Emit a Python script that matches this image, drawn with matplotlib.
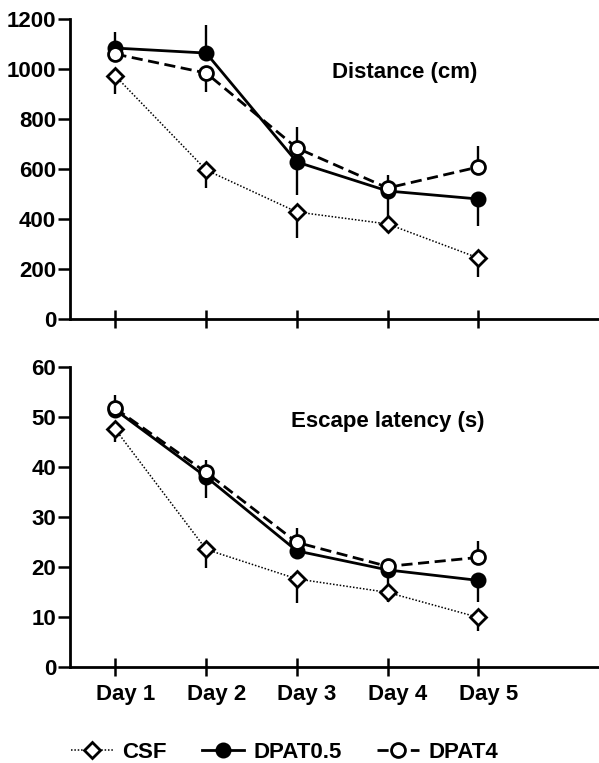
import matplotlib
matplotlib.use("agg")
import numpy as np
from matplotlib import pyplot as plt
from matplotlib import transforms
from matplotlib.lines import Line2D

plt.rcParams["font.family"] = ["Liberation Sans", "DejaVu Sans"]
plt.rcParams["font.weight"] = "bold"

days = ["Day 1", "Day 2", "Day 3", "Day 4", "Day 5"]
series = ["CSF", "DPAT0.5", "DPAT4"]

# distance (cm): means, lower and upper error
dist_csf = [972, 596, 428, 380, 244]
dist_csf_lo = [72, 72, 104, 36, 76]
dist_csf_hi = [0, 0, 0, 0, 0]
dist_d05 = [1084, 1064, 628, 512, 480]
dist_d05_lo = [0, 0, 132, 104, 108]
dist_d05_hi = [64, 112, 0, 0, 0]
dist_d4 = [1060, 984, 684, 524, 608]
dist_d4_lo = [0, 76, 0, 0, 0]
dist_d4_hi = [0, 0, 84, 52, 84]

# escape latency (s)
lat_csf = [47.5, 23.5, 17.6, 14.9, 9.9]
lat_csf_lo = [2.5, 3.8, 4.9, 1.9, 2.8]
lat_csf_hi = [0, 0, 0, 0, 0]
lat_d05 = [51.4, 38.0, 23.2, 19.4, 17.3]
lat_d05_lo = [0, 4.3, 0, 3.4, 4.3]
lat_d05_hi = [0, 0, 0, 0, 0]
lat_d4 = [51.7, 38.9, 24.9, 20.1, 21.9]
lat_d4_lo = [0, 0, 0, 0, 0]
lat_d4_hi = [2.7, 2.4, 2.8, 0.6, 3.2]

styles = {
    "CSF": dict(ls=(0, (1, 1.2)), lw=1.1, marker="D", ms=8, mfc="white", mec="black", mew=2.0),
    "DPAT0.5": dict(ls="-", lw=2.0, marker="o", ms=10, mfc="black", mec="black", mew=1.5),
    "DPAT4": dict(ls=(0, (4, 2)), lw=2.0, marker="o", ms=10, mfc="white", mec="black", mew=2.0),
}

fs = 16
x = np.arange(1, 6)

fig = plt.figure(figsize=(5.99, 7.63), dpi=100)
ax1 = fig.add_axes([0.117, 0.582, 0.883, 0.393])
ax2 = fig.add_axes([0.117, 0.126, 0.883, 0.393])


def draw(ax, data, ymax, step, label, lx, ly):
    for name, (y, lo, hi) in zip(series, data):
        ax.errorbar(x, y, yerr=[lo, hi], color="black", capsize=0,
                    elinewidth=1.7, **styles[name])
    ax.set_xlim(0.5, 6.33)
    ax.set_ylim(0, ymax)
    ax.set_yticks(np.arange(0, ymax + 1, step))
    ax.set_xticks(x)
    for s in ["top", "right"]:
        ax.spines[s].set_visible(False)
    for s in ["left", "bottom"]:
        ax.spines[s].set_linewidth(2.0)
    ax.spines["left"].set_bounds(0, ymax)
    ax.tick_params(axis="y", direction="out", length=9, width=1.8, labelsize=fs, pad=1)
    ax.tick_params(axis="x", direction="inout", length=13, width=1.8, labelsize=fs, pad=6)
    ax.text(lx, ly, label, transform=ax.transAxes, fontsize=fs, fontweight="bold",
            ha="center", va="center")


draw(ax1, [(dist_csf, dist_csf_lo, dist_csf_hi), (dist_d05, dist_d05_lo, dist_d05_hi),
           (dist_d4, dist_d4_lo, dist_d4_hi)], 1200, 200, "Distance (cm)", 0.633, 0.823)
draw(ax2, [(lat_csf, lat_csf_lo, lat_csf_hi), (lat_d05, lat_d05_lo, lat_d05_hi),
           (lat_d4, lat_d4_lo, lat_d4_hi)], 60, 10, "Escape latency (s)", 0.600, 0.817)

ax1.set_xticklabels([])
ax2.set_xticklabels(days)
offset = transforms.ScaledTranslation(10 / 100, 0, fig.dpi_scale_trans)
for t in ax2.get_xticklabels():
    t.set_transform(t.get_transform() + offset)

handles = [Line2D([], [], color="black", **styles[name]) for name in series]
fig.legend(handles, series, loc="center", bbox_to_anchor=(0.475, 0.014), ncol=3,
           frameon=False, handlelength=1.9, columnspacing=1.6,
           handletextpad=0.4, prop={"weight": "bold", "size": fs})

fig.savefig("out.png", dpi=100)
